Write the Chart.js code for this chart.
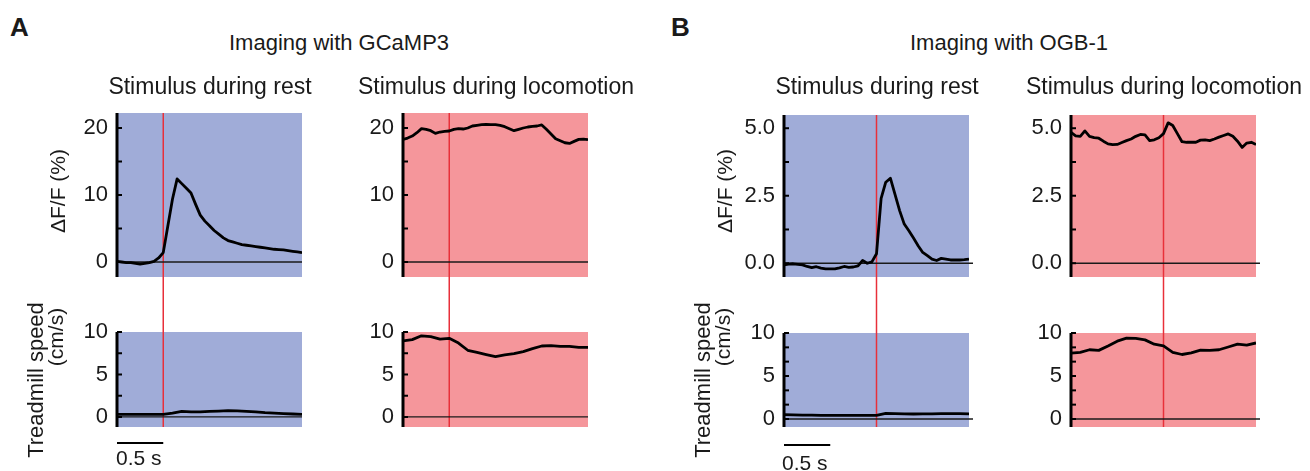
<!DOCTYPE html>
<html>
<head>
<meta charset="utf-8">
<script src="https://cdn.jsdelivr.net/npm/chart.js"></script>
<style>
  body { margin:0; width:1310px; height:471px; background:#fff; position:relative; overflow:hidden;
         font-family:"Liberation Sans", Arial, sans-serif; color:#1a1a1a; }
  canvas { position:absolute; }
  .txt { position:absolute; white-space:nowrap; line-height:1; z-index:2; }
  .rot { transform:translate(-50%,-50%) rotate(-90deg); }
  .sub { width:300px; text-align:center; font-size:23px; top:75px; }
</style>
</head>
<body>
<!-- panel letters + titles -->
<div class="txt" style="left:10px;top:14px;font-size:26px;font-weight:bold">A</div>
<div class="txt" style="left:671px;top:14px;font-size:26px;font-weight:bold">B</div>
<div class="txt" style="left:229px;top:32px;font-size:22px">Imaging with GCaMP3</div>
<div class="txt" style="left:910px;top:32px;font-size:22px">Imaging with OGB-1</div>
<div class="txt sub" style="left:60px">Stimulus during rest</div>
<div class="txt sub" style="left:346px">Stimulus during locomotion</div>
<div class="txt sub" style="left:727px">Stimulus during rest</div>
<div class="txt sub" style="left:1014px">Stimulus during locomotion</div>

<!-- y axis titles -->
<div class="txt rot" style="left:57px;top:191px;font-size:21px">ΔF/F (%)</div>
<div class="txt rot" style="left:36px;top:380px;font-size:22px">Treadmill speed</div>
<div class="txt rot" style="left:55px;top:337px;font-size:21px">(cm/s)</div>
<div class="txt rot" style="left:724px;top:191px;font-size:21px">ΔF/F (%)</div>
<div class="txt rot" style="left:703px;top:380px;font-size:22px">Treadmill speed</div>
<div class="txt rot" style="left:722px;top:337px;font-size:21px">(cm/s)</div>

<!-- scale bar labels -->
<div class="txt" style="left:116px;top:447px;font-size:21px">0.5 s</div>
<div class="txt" style="left:782px;top:452px;font-size:21px">0.5 s</div>

<script>
// time (s), stimulus onset at 0
const time_a = [-0.50, -0.45, -0.40, -0.35, -0.30, -0.25, -0.20, -0.15, -0.10, -0.05,
  0.00, 0.05, 0.10, 0.15, 0.20, 0.25, 0.30, 0.35, 0.40, 0.45,
  0.50, 0.55, 0.60, 0.65, 0.70, 0.75, 0.80, 0.85, 0.90, 0.95,
  1.00, 1.05, 1.10, 1.15, 1.20, 1.25, 1.30, 1.35, 1.40, 1.45, 1.50];
const time_a_speed = [-0.5, -0.4, -0.3, -0.2, -0.1, 0.0, 0.1, 0.2, 0.3, 0.4, 0.5,
  0.6, 0.7, 0.8, 0.9, 1.0, 1.1, 1.2, 1.3, 1.4, 1.5];
const time_b = [-1.00, -0.95, -0.90, -0.85, -0.80, -0.75, -0.70, -0.65, -0.60, -0.55,
  -0.50, -0.45, -0.40, -0.35, -0.30, -0.25, -0.20, -0.15, -0.10, -0.05,
  0.00, 0.05, 0.10, 0.15, 0.20, 0.25, 0.30, 0.35, 0.40, 0.45,
  0.50, 0.55, 0.60, 0.65, 0.70, 0.75, 0.80, 0.85, 0.90, 0.95, 1.00];
const time_b_speed = [-1.0, -0.9, -0.8, -0.7, -0.6, -0.5, -0.4, -0.3, -0.2, -0.1, 0.0,
  0.1, 0.2, 0.3, 0.4, 0.5, 0.6, 0.7, 0.8, 0.9, 1.0];

// A - GCaMP3, dF/F (%)
const dff_rest_a = [0.1, 0.0, -0.1, -0.1, -0.2, -0.3, -0.2, -0.1, 0.1, 0.6,
  1.4, 5.4, 9.4, 12.4, 11.7, 11.0, 10.3, 8.6, 7.0, 6.1,
  5.4, 4.7, 4.15, 3.6, 3.2, 3.0, 2.8, 2.6, 2.5, 2.4,
  2.3, 2.2, 2.1, 2.0, 1.9, 1.85, 1.8, 1.7, 1.6, 1.5, 1.4];
const dff_loco_a = [18.3, 18.5, 18.8, 19.3, 19.9, 19.8, 19.6, 19.2, 19.4, 19.5,
  19.55, 19.8, 19.9, 19.85, 20.0, 20.3, 20.4, 20.5, 20.55, 20.5,
  20.5, 20.4, 20.2, 19.9, 19.6, 19.8, 20.0, 20.15, 20.25, 20.3,
  20.45, 19.8, 19.1, 18.4, 18.1, 17.8, 17.7, 18.0, 18.3, 18.35, 18.25];
// A - treadmill speed (cm/s)
const speed_rest_a = [0.3, 0.3, 0.3, 0.3, 0.3, 0.3, 0.45, 0.65, 0.6, 0.6, 0.65,
  0.7, 0.75, 0.72, 0.65, 0.6, 0.5, 0.45, 0.4, 0.35, 0.3];
const speed_loco_a = [8.95, 9.1, 9.55, 9.45, 9.15, 9.25, 8.7, 7.85, 7.6, 7.35, 7.1,
  7.3, 7.45, 7.7, 8.05, 8.35, 8.4, 8.3, 8.3, 8.2, 8.2];

// B - OGB-1, dF/F (%)
const dff_rest_b = [-0.06, -0.03, -0.02, -0.04, -0.06, -0.12, -0.16, -0.13, -0.18, -0.21,
  -0.21, -0.21, -0.17, -0.12, -0.15, -0.14, -0.1, 0.1, 0.0, 0.05,
  0.35, 2.4, 3.0, 3.15, 2.55, 1.95, 1.45, 1.2, 0.93, 0.65,
  0.4, 0.28, 0.15, 0.1, 0.18, 0.15, 0.12, 0.12, 0.12, 0.13, 0.15];
const dff_loco_b = [4.85, 4.72, 4.7, 4.9, 4.7, 4.65, 4.63, 4.52, 4.42, 4.39,
  4.4, 4.47, 4.54, 4.6, 4.7, 4.77, 4.75, 4.54, 4.57, 4.65,
  4.8, 5.2, 5.1, 4.8, 4.5, 4.48, 4.48, 4.48, 4.56, 4.57,
  4.54, 4.6, 4.67, 4.73, 4.79, 4.7, 4.52, 4.29, 4.45, 4.48, 4.4];
// B - treadmill speed (cm/s)
const speed_rest_b = [0.5, 0.48, 0.45, 0.45, 0.42, 0.42, 0.42, 0.42, 0.42, 0.42, 0.42,
  0.65, 0.62, 0.6, 0.58, 0.6, 0.6, 0.62, 0.62, 0.62, 0.6];
const speed_loco_b = [7.67, 7.75, 8.05, 7.98, 8.5, 9.05, 9.4, 9.38, 9.2, 8.7, 8.5,
  7.75, 7.5, 7.68, 8.0, 7.98, 8.05, 8.37, 8.7, 8.58, 8.84];

// y ticks + labels
const dff_ticks_a = [0, 5, 10, 15, 20];
const dff_labels_a = ['0', '', '10', '', '20'];
const speed_ticks_a = [0, 2.5, 5, 7.5, 10];
const speed_labels_a = ['0', '', '5', '', '10'];
const dff_ticks_b = [0, 1.25, 2.5, 3.75, 5];
const dff_labels_b = ['0.0', '', '2.5', '', '5.0'];
const speed_ticks_b = [0, 1.67, 3.33, 5, 6.67, 8.33, 10];
const speed_labels_b = ['0', '', '', '5', '', '', '10'];

const scale_bar_len = 0.5; // s

const rest_bg = '#a0acd8';
const loco_bg = '#f5969b';

Chart.defaults.font.family = '"Liberation Sans", Arial, sans-serif';
Chart.defaults.color = '#1a1a1a';

const AXW = 60;

// background, stimulus line, zero line, axis, inward ticks, scale bar
const panel_plugin = {
  id: 'panel',
  beforeDatasetsDraw(chart, args, opts) {
    const ctx = chart.ctx, a = chart.chartArea;
    const x = chart.scales.x, y = chart.scales.y;
    ctx.save();
    ctx.fillStyle = opts.bg;
    ctx.fillRect(a.left, a.top, a.right - a.left, a.bottom - a.top);

    const sx = x.getPixelForValue(0);
    ctx.strokeStyle = '#e8303a';
    ctx.lineWidth = 1.5;
    ctx.beginPath();
    ctx.moveTo(sx, opts.stim_from_top ? 0 : a.top);
    ctx.lineTo(sx, a.bottom);
    ctx.stroke();

    const zy = y.getPixelForValue(0);
    ctx.strokeStyle = '#1a1a1a';
    ctx.lineWidth = 1.3;
    ctx.beginPath();
    ctx.moveTo(a.left, zy);
    ctx.lineTo(a.right + opts.zero_ext, zy);
    ctx.stroke();
    ctx.restore();
  },
  afterDatasetsDraw(chart, args, opts) {
    const ctx = chart.ctx, a = chart.chartArea;
    const x = chart.scales.x, y = chart.scales.y;
    ctx.save();
    ctx.strokeStyle = '#000';
    ctx.lineWidth = 3;
    ctx.beginPath();
    ctx.moveTo(a.left, a.top);
    ctx.lineTo(a.left, a.bottom);
    ctx.stroke();

    ctx.lineWidth = 2;
    y.ticks.forEach(t => {
      const ty = y.getPixelForValue(t.value);
      ctx.beginPath();
      ctx.moveTo(a.left, ty);
      ctx.lineTo(a.left + 5, ty);
      ctx.stroke();
    });

    if (opts.bar) {
      const by = a.bottom + opts.bar_gap;
      ctx.lineWidth = 2;
      ctx.beginPath();
      ctx.moveTo(x.getPixelForValue(x.min), by);
      ctx.lineTo(x.getPixelForValue(x.min + scale_bar_len), by);
      ctx.stroke();
    }
    ctx.restore();
  }
};

function panel(o) {
  const cv = document.createElement('canvas');
  cv.width = AXW + 185 + 12;
  cv.height = o.cbottom - o.ctop;
  cv.style.left = (o.left - AXW) + 'px';
  cv.style.top = o.ctop + 'px';
  document.body.appendChild(cv);

  new Chart(cv, {
    type: 'line',
    data: {
      datasets: [{
        data: o.t.map((t, i) => ({ x: t, y: o.v[i] })),
        borderColor: '#000',
        borderWidth: 2.8,
        borderJoinStyle: 'round',
        pointRadius: 0,
        tension: 0
      }]
    },
    options: {
      responsive: false,
      animation: false,
      devicePixelRatio: 1,
      layout: { padding: { left: 0, right: 12, top: o.top - o.ctop, bottom: o.cbottom - o.bottom } },
      scales: {
        x: { type: 'linear', display: false, min: o.xmin, max: o.xmax },
        y: {
          min: o.ymin, max: o.ymax,
          grid: { display: false, drawTicks: false },
          border: { display: false },
          afterBuildTicks: s => { s.ticks = o.ticks.map(v => ({ value: v })); },
          // fixed label column, no extra label padding on top/bottom
          afterFit: s => { s.width = AXW; s.paddingTop = 0; s.paddingBottom = 0; },
          ticks: { autoSkip: false, padding: 9, font: { size: 22 }, callback: (v, i) => o.labels[i] }
        }
      },
      plugins: {
        legend: { display: false },
        tooltip: { enabled: false },
        panel: { bg: o.bg, stim_from_top: o.gap, zero_ext: o.zext || 0, bar: !!o.bar, bar_gap: o.bar_gap || 0 }
      }
    },
    plugins: [panel_plugin]
  });
}

// A - GCaMP3
panel({ left: 117, top: 113, bottom: 277, ctop: 95, cbottom: 292, xmin: -0.5, xmax: 1.5,
  ymin: -2.24, ymax: 22.24, t: time_a, v: dff_rest_a, ticks: dff_ticks_a, labels: dff_labels_a, bg: rest_bg });
panel({ left: 403, top: 113, bottom: 277, ctop: 95, cbottom: 292, xmin: -0.5, xmax: 1.5,
  ymin: -2.24, ymax: 22.24, t: time_a, v: dff_loco_a, ticks: dff_ticks_a, labels: dff_labels_a, bg: loco_bg });
panel({ left: 117, top: 332, bottom: 427, ctop: 277, cbottom: 471, xmin: -0.5, xmax: 1.5,
  ymin: -1.18, ymax: 10, t: time_a_speed, v: speed_rest_a, ticks: speed_ticks_a, labels: speed_labels_a,
  bg: rest_bg, gap: true, bar: true, bar_gap: 16 });
panel({ left: 403, top: 332, bottom: 427, ctop: 277, cbottom: 471, xmin: -0.5, xmax: 1.5,
  ymin: -1.18, ymax: 10, t: time_a_speed, v: speed_loco_a, ticks: speed_ticks_a, labels: speed_labels_a,
  bg: loco_bg, gap: true });

// B - OGB-1
panel({ left: 784, top: 115, bottom: 277, ctop: 95, cbottom: 292, xmin: -1, xmax: 1,
  ymin: -0.51, ymax: 5.49, t: time_b, v: dff_rest_b, ticks: dff_ticks_b, labels: dff_labels_b, bg: rest_bg, zext: 4 });
panel({ left: 1071, top: 115, bottom: 277, ctop: 95, cbottom: 292, xmin: -1, xmax: 1,
  ymin: -0.51, ymax: 5.49, t: time_b, v: dff_loco_b, ticks: dff_ticks_b, labels: dff_labels_b, bg: loco_bg, zext: 4 });
panel({ left: 784, top: 333, bottom: 427, ctop: 277, cbottom: 471, xmin: -1, xmax: 1,
  ymin: -0.93, ymax: 10, t: time_b_speed, v: speed_rest_b, ticks: speed_ticks_b, labels: speed_labels_b,
  bg: rest_bg, gap: true, zext: 4, bar: true, bar_gap: 18 });
panel({ left: 1071, top: 333, bottom: 427, ctop: 277, cbottom: 471, xmin: -1, xmax: 1,
  ymin: -0.93, ymax: 10, t: time_b_speed, v: speed_loco_b, ticks: speed_ticks_b, labels: speed_labels_b,
  bg: loco_bg, gap: true, zext: 4 });
</script>
</body>
</html>
